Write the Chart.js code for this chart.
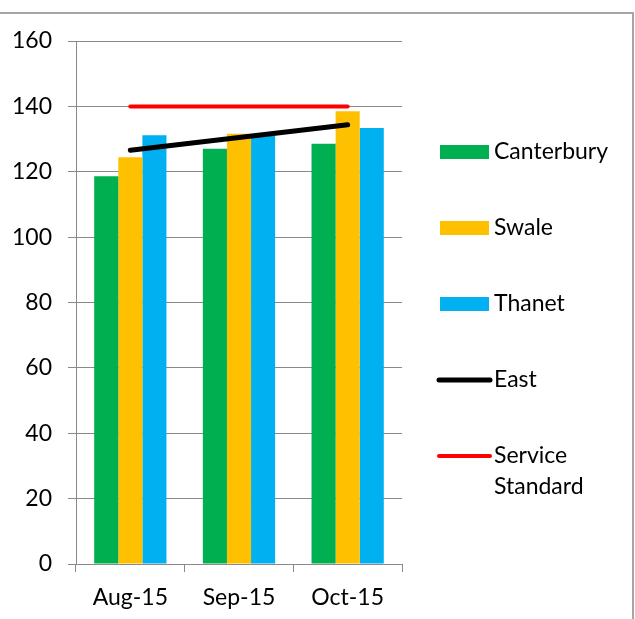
<!DOCTYPE html>
<html>
<head>
<meta charset="utf-8">
<script src="https://cdn.jsdelivr.net/npm/chart.js@4/dist/chart.umd.min.js"></script>
<style>
  html, body { margin: 0; padding: 0; background: #fff; }
  #wrap { position: relative; width: 635px; height: 619px; overflow: hidden; }
  #frame { position: absolute; left: -2px; top: 12px; width: 636px; height: 620px;
           border-top: 2px solid #a6a6a6; border-right: 2px solid #a6a6a6; box-sizing: border-box; }
  canvas { position: absolute; left: 0; top: 0; }
</style>
</head>
<body>
<div id="wrap">
  <div id="frame"></div>
  <canvas id="c" width="635" height="619"></canvas>
</div>
<script>
const categories = ["Aug-15", "Sep-15", "Oct-15"];
const canterbury = [118.6, 127.0, 128.6];
const swale = [124.4, 131.6, 138.5];
const thanet = [131.2, 131.0, 133.4];
const east = [126.6, 130.5, 134.4];
const serviceStandard = [140, 140, 140];
const yTicks = [0, 20, 40, 60, 80, 100, 120, 140, 160];

const FONT_FAMILY = "Lato, 'Open Sans', sans-serif";
const FONT_SIZE = 23;

const legendPlugin = {
  id: 'sideLegend',
  afterDraw(chart) {
    const ctx = chart.ctx;
    const x0 = 440, x1 = 489, textX = 494, firstY = 152, step = 76, maxW = 130, lh = 31;
    ctx.save();
    ctx.font = FONT_SIZE + "px " + FONT_FAMILY;
    ctx.textBaseline = 'middle';
    ctx.textAlign = 'left';
    chart.data.datasets.forEach((ds, i) => {
      const y = firstY + i * step;
      if ((ds.type || 'bar') === 'bar') {
        ctx.fillStyle = ds.backgroundColor;
        ctx.fillRect(x0, y - 7, x1 - x0, 14);
      } else {
        ctx.strokeStyle = ds.borderColor;
        ctx.lineWidth = ds.borderWidth;
        ctx.lineCap = 'round';
        ctx.beginPath();
        ctx.moveTo(x0 - 1, y);
        ctx.lineTo(x1 + 1, y);
        ctx.stroke();
      }
      const words = ds.label.split(' ');
      const lines = [];
      let cur = '';
      for (const w of words) {
        const t = cur ? cur + ' ' + w : w;
        if (cur && ctx.measureText(t).width > maxW) { lines.push(cur); cur = w; } else cur = t;
      }
      lines.push(cur);
      ctx.fillStyle = '#000';
      lines.forEach((ln, k) => ctx.fillText(ln, textX, y + k * lh));
    });
    ctx.restore();
  }
};

const gridColor = '#898989';

new Chart(document.getElementById('c'), {
  type: 'bar',
  data: {
    labels: categories,
    datasets: [
      { label: 'Canterbury', data: canterbury, backgroundColor: '#00B050', order: 2 },
      { label: 'Swale', data: swale, backgroundColor: '#FFC000', order: 2 },
      { label: 'Thanet', data: thanet, backgroundColor: '#00B0F0', order: 2 },
      { type: 'line', label: 'East', data: east, borderColor: '#000000', backgroundColor: '#000000',
        borderWidth: 5, pointRadius: 0, borderCapStyle: 'round', tension: 0, order: 1 },
      { type: 'line', label: 'Service Standard', data: serviceStandard, borderColor: '#FF0000', backgroundColor: '#FF0000',
        borderWidth: 4, pointRadius: 0, borderCapStyle: 'round', tension: 0, order: 0 }
    ]
  },
  options: {
    responsive: false,
    devicePixelRatio: 1,
    animation: false,
    datasets: { bar: { barPercentage: 1, categoryPercentage: 0.665 } },
    layout: { padding: { left: 0, top: 41, right: 233, bottom: 0 } },
    plugins: { legend: { display: false }, tooltip: { enabled: false } },
    scales: {
      x: {
        offset: true,
        grid: { drawOnChartArea: false, drawTicks: true, tickLength: 8, color: gridColor, offset: true },
        border: { color: gridColor, width: 1 },
        ticks: { color: '#000', font: { family: FONT_FAMILY, size: FONT_SIZE }, padding: 12, maxRotation: 0 },
        afterFit: s => { s.height = 55; }
      },
      y: {
        min: 0, max: 160,
        afterBuildTicks: s => { s.ticks = yTicks.map(v => ({ value: v })); },
        grid: { color: gridColor, tickLength: 8, lineWidth: 1 },
        border: { color: gridColor, width: 1 },
        ticks: { color: '#000', font: { family: FONT_FAMILY, size: FONT_SIZE }, padding: 16 },
        afterFit: s => { s.width = 76; }
      }
    }
  },
  plugins: [legendPlugin]
});
</script>
</body>
</html>
